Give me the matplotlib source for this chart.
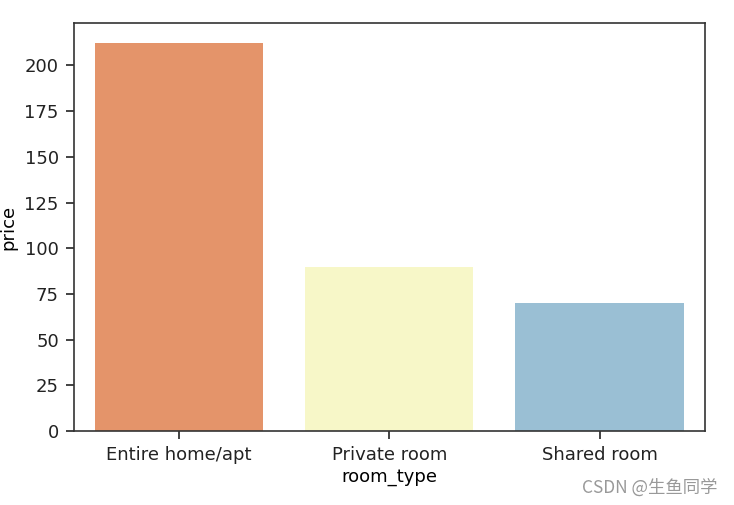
import matplotlib
matplotlib.use("Agg")
import matplotlib.pyplot as plt

room_types = ["Entire home/apt", "Private room", "Shared room"]
prices = [212.5, 89.8, 70.2]
bar_colors = ["#E4946A", "#F7F7C8", "#9ABFD4"]

plt.rcParams['font.size'] = 13

fig = plt.figure(figsize=(7.34, 5.05), dpi=100)
ax = fig.add_axes([0.101, 0.1465, 0.859, 0.8075])

ax.bar(range(len(room_types)), prices, width=0.8, color=bar_colors)
ax.set_xticks(range(len(room_types)))
ax.set_xticklabels(room_types)
ax.set_xlim(-0.5, 2.5)
ax.set_ylim(0, max(prices) * 1.05)
ax.set_yticks(range(0, 201, 25))
ax.set_xlabel("room_type", labelpad=3)
ax.set_ylabel("price", labelpad=5)
ax.tick_params(length=6, width=1.2, colors="#222222", pad=5)
for s in ax.spines.values():
    s.set_linewidth(1.2)
    s.set_color("#333333")

fig.text(0.978, 0.035, "CSDN @生鱼同学", ha="right", va="center",
         fontsize=12.5, color="#999999",
         family=["Noto Sans CJK SC", "DejaVu Sans"])

plt.savefig("out.png")
